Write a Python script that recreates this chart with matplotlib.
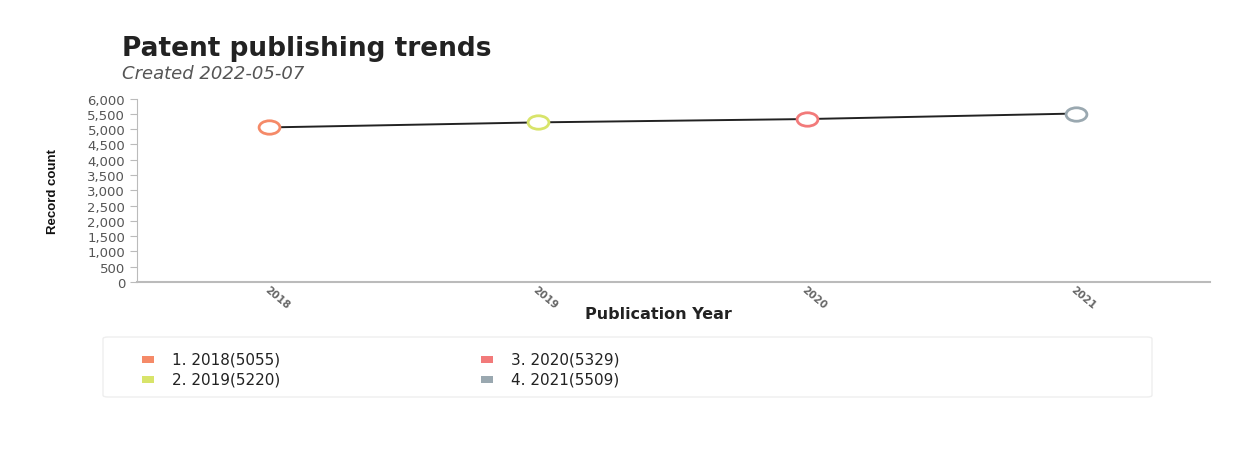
import matplotlib.pyplot as plt
import matplotlib.path as mpath
import matplotlib.patches as mpatches
import matplotlib.ticker as mticker

years = [2018, 2019, 2020, 2021]
counts = [5055, 5220, 5329, 5509]
colors = ["#f58a68", "#d8e46a", "#f27a7a", "#9aa8b0"]

# wide ellipse marker
circ = mpath.Path.unit_circle()
ellipse = mpath.Path(circ.vertices * [1.55, 1.0], circ.codes)

fig = plt.figure(figsize=(12.57, 4.64), dpi=100)
ax = fig.add_axes([0.109, 0.39, 0.8536, 0.3955])

ax.plot(years, counts, color="#222222", lw=1.4, zorder=2)
for x, y, c in zip(years, counts, colors):
    ax.plot(x, y, marker=ellipse, ms=15, mfc="white", mec=c, mew=2, zorder=3)

ax.set_xlim(2017.51, 2021.5)
ax.set_ylim(0, 6000)
ax.set_yticks(range(0, 6001, 500))
ax.yaxis.set_major_formatter(mticker.FuncFormatter(lambda v, p: f"{int(v):,}"))
ax.set_xticks(years)
ax.set_xticklabels([str(y) for y in years], rotation=-40, ha="left",
                   rotation_mode="anchor", fontsize=7.5, fontweight="bold", color="#666666")
ax.tick_params(axis="x", length=0, pad=1)
ax.tick_params(axis="y", length=5, color="#bbbbbb", labelsize=9.5, labelcolor="#555555")

for s in ["top", "right"]:
    ax.spines[s].set_visible(False)
ax.spines["left"].set_color("#bbbbbb")
ax.spines["bottom"].set_color("#bbbbbb")
ax.spines["bottom"].set_linewidth(1.5)

ax.set_xlabel("Publication Year", fontsize=11.5, fontweight="bold", color="#222222")
ax.xaxis.set_label_coords(0.486, -0.13)
ax.set_ylabel("Record count", fontsize=9.5, fontweight="bold", color="#111111",
              family="Liberation Sans")
ax.yaxis.set_label_coords(-0.073, 0.5)

fig.text(0.097, 0.88, "Patent publishing trends", fontsize=19, fontweight="bold", color="#222222")
fig.text(0.097, 0.83, "Created 2022-05-07", fontsize=13, style="italic", color="#555555")

# legend panel
box = mpatches.FancyBboxPatch((103 / 1257, 1 - 398 / 464), 1049 / 1257, 60 / 464,
                              boxstyle="round,pad=0,rounding_size=0.004",
                              transform=fig.transFigure, fc="white", ec="#eeeeee", lw=1)
fig.patches.append(box)
col_x = [148, 487]
row_y = [360, 380]
for i, (yr, n, c) in enumerate(zip(years, counts, colors)):
    cx = col_x[i // 2]
    cy = row_y[i % 2]
    fig.patches.append(mpatches.Rectangle(((cx - 6) / 1257, 1 - (cy + 3.5) / 464), 12 / 1257, 7 / 464,
                                          transform=fig.transFigure, fc=c, ec="none"))
    fig.text((cx + 24) / 1257, 1 - cy / 464, f"{i + 1}. {yr}({n})", fontsize=11,
             color="#222222", va="center")

fig.savefig("out.png", dpi=100)
